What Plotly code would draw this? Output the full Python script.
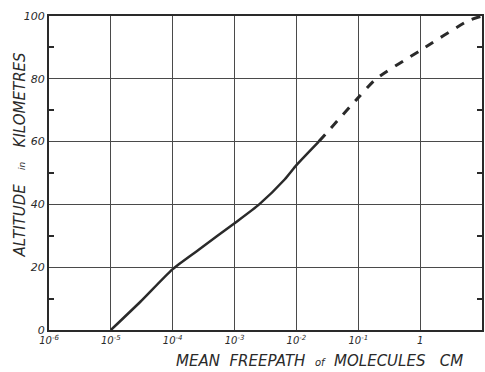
import plotly.graph_objects as go

# Solid (measured) portion of curve: mean free path (cm) vs altitude (km)
solid_path = [1e-5, 3.0e-5, 1e-4, 2.6e-4, 1e-3, 2.5e-3, 6.5e-3, 1e-2, 2.3e-2]
solid_alt = [0, 9, 19.4, 25.5, 34, 40, 48, 52.5, 60]
# Dashed (extrapolated) portion
dash_path = [2.3e-2, 1e-1, 1.95e-1, 1.0, 6.0, 10.0]
dash_alt = [60, 74, 80, 89, 98.5, 100]

x_tickvals = [1e-6, 1e-5, 1e-4, 1e-3, 1e-2, 1e-1, 1, 10]
x_ticktext = ["10<sup>-6</sup>", "10<sup>-5</sup>", "10<sup>-4</sup>", "10<sup>-3</sup>",
              "10<sup>-2</sup>", "10<sup>-1</sup>", "1", "10"]
y_tickvals = [0, 20, 40, 60, 80, 100]
y_ticktext = ["0", "20", "40", "60", "80", "100"]

ink = "#2a2a2a"
font_main = dict(family="DejaVu Sans", color=ink, style="italic")

fig = go.Figure()
fig.add_trace(go.Scatter(x=solid_path, y=solid_alt, mode="lines",
                         line=dict(color=ink, width=2.5, shape="spline", smoothing=0.6),
                         showlegend=False, hoverinfo="skip"))
fig.add_trace(go.Scatter(x=dash_path, y=dash_alt, mode="lines",
                         line=dict(color=ink, width=3, dash="dash", shape="spline", smoothing=0.6),
                         showlegend=False, hoverinfo="skip"))

fig.update_layout(
    width=485, height=372,
    margin=dict(l=49, r=1, t=16, b=42),
    paper_bgcolor="white", plot_bgcolor="white",
    font=dict(family="DejaVu Sans", color=ink),
    xaxis=dict(type="log", range=[-6, 1], tickvals=x_tickvals, ticktext=x_ticktext,
               showgrid=True, gridcolor="#4a4a4a", gridwidth=1.2,
               showline=True, linecolor=ink, linewidth=2.2, mirror=True,
               ticks="", tickfont=dict(size=10, **font_main), zeroline=False),
    yaxis=dict(range=[0, 100], tickvals=y_tickvals, ticktext=y_ticktext,
               showgrid=True, gridcolor="#4a4a4a", gridwidth=1.2,
               showline=True, linecolor=ink, linewidth=2.2, mirror="allticks",
               ticks="", tickfont=dict(size=11, **font_main), zeroline=False,
               minor=dict(ticks="inside", tickvals=[10, 30, 50, 70, 90], ticklen=5,
                          tickcolor=ink, tickwidth=1.5, showgrid=False)),
    annotations=[
        dict(text="ALTITUDE&nbsp;&nbsp; <span style='font-size:9px'>in</span> &nbsp;&nbsp;KILOMETRES",
             xref="paper", yref="paper", x=-0.066, y=0.56, textangle=-90,
             showarrow=False, xanchor="center", yanchor="middle",
             font=dict(size=15, **font_main)),
        dict(text="MEAN&nbsp; FREEPATH&nbsp; <span style='font-size:10px'>of</span> &nbsp;MOLECULES&nbsp;&nbsp; CM",
             xref="paper", yref="paper", x=0.625, y=-0.1,
             showarrow=False, xanchor="center", yanchor="middle",
             font=dict(size=15, **font_main)),
    ],
)

fig.write_html("out.html", config={"displayModeBar": False},
               post_script="document.body.style.margin='0';document.body.style.overflow='hidden';")
